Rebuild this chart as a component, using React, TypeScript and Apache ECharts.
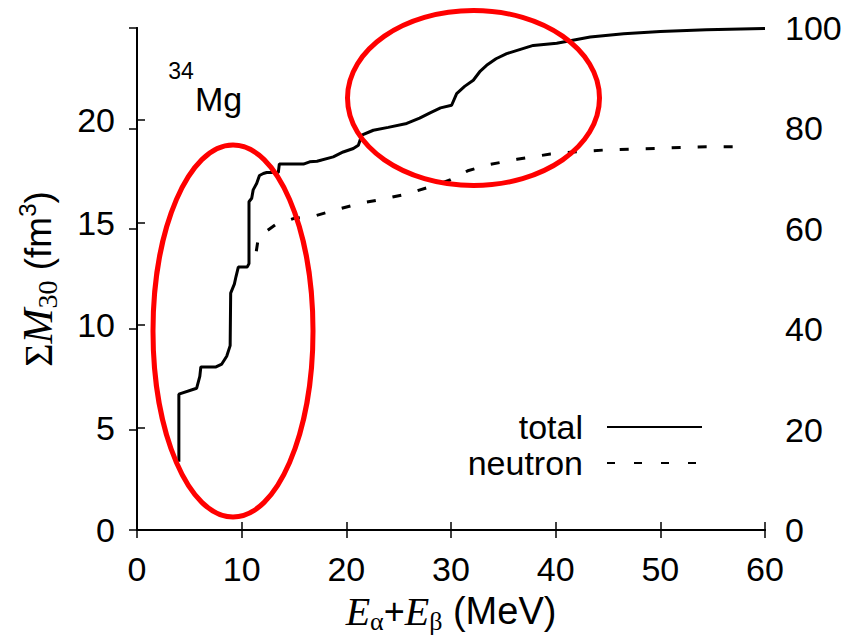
import React, { useEffect, useRef } from "react";
import * as echarts from "echarts";

const xTicks = [0, 10, 20, 30, 40, 50, 60];
const leftTicks = [0, 5, 10, 15, 20];
const rightTicks = [0, 20, 40, 60, 80, 100];

const totalE = [4.0, 4.0, 5.7, 6.0, 6.1, 7.55, 8.1, 8.57, 8.9, 8.95, 9.3, 9.46, 9.68, 10.54, 10.7, 10.7, 10.96, 11.1, 11.44, 11.7, 12.07, 12.39, 13.5, 13.6, 15.9, 16.5, 17.2, 18.75, 19.7, 20.67, 21.15, 21.47, 22.58, 24.0, 25.77, 27.0, 28.0, 29.0, 30.06, 30.54, 31.3, 32.13, 32.8, 33.4, 34.3, 35.32, 36.4, 37.86, 40.1, 43.3, 46.5, 50.0, 54.4, 60.0];
const totalM = [3.33, 6.63, 6.92, 7.5, 7.96, 7.96, 8.1, 8.48, 9.0, 11.56, 12.0, 12.37, 12.83, 12.84, 13.0, 16.02, 16.19, 16.6, 16.92, 17.3, 17.4, 17.45, 17.45, 17.86, 17.86, 17.97, 18.0, 18.21, 18.45, 18.62, 18.78, 19.27, 19.51, 19.65, 19.84, 20.1, 20.36, 20.6, 20.73, 21.3, 21.65, 21.95, 22.4, 22.68, 23.0, 23.25, 23.42, 23.65, 23.76, 24.06, 24.22, 24.33, 24.41, 24.48];

const neutronE = [11.4, 11.6, 13.2, 15.0, 17.0, 19.2, 21.3, 23.5, 25.8, 27.8, 29.9, 31.6, 33.7, 36.3, 39.5, 42.0, 44.5, 47.1, 49.6, 51.9, 54.4, 58.4];
const neutronM = [13.6, 14.3, 14.89, 15.21, 15.33, 15.65, 15.94, 16.15, 16.4, 16.72, 17.08, 17.53, 17.84, 18.09, 18.35, 18.46, 18.54, 18.59, 18.62, 18.67, 18.7, 18.7];

const SANS = "Liberation Sans, Arial, Helvetica, sans-serif";
const SERIF = "Liberation Serif, Times New Roman, serif";

export default function App() {
  const ref = useRef<HTMLDivElement>(null);
  useEffect(() => {
    if (!ref.current) return;
    const chart = echarts.init(ref.current, null, { renderer: "svg" });
    const axisLine = { show: true, lineStyle: { color: "#000", width: 2 } };
    const tick = { show: true, inside: true, length: 8, lineStyle: { color: "#000", width: 1.5 } };
    const label = { color: "#000", fontSize: 34, fontFamily: SANS };
    const option: any = {
      animation: false,
      grid: { left: 137, right: 85, top: 28, bottom: 111 },
      legend: {
        right: 147,
        top: 409,
        orient: "vertical",
        align: "right",
        itemWidth: 95,
        itemHeight: 10,
        itemGap: 0,
        padding: 0,
        itemStyle: { opacity: 0 },
        lineStyle: { width: 2 },
        textStyle: { fontSize: 34, fontFamily: SANS, color: "#000", lineHeight: 36, padding: [0, 19, 0, 0] },
        data: [
          { name: "total" },
          { name: "neutron", lineStyle: { width: 2, type: [8, 19] } },
        ],
      },
      xAxis: [
        {
          type: "value",
          min: xTicks[0],
          max: xTicks[xTicks.length - 1],
          interval: 10,
          position: "bottom",
          axisLine,
          axisTick: tick,
          splitLine: { show: false },
          axisLabel: { ...label, margin: 22 },
          name: "{e|E}{sub|α}{p|+}{e|E}{sub|β}{n| (MeV)}",
          nameLocation: "middle",
          nameGap: 58,
          nameTextStyle: {
            rich: {
              e: { fontFamily: SERIF, fontStyle: "italic", fontSize: 40, lineHeight: 46, color: "#000" },
              sub: { fontFamily: SERIF, fontSize: 26, lineHeight: 22, verticalAlign: "bottom", color: "#000" },
              p: { fontFamily: SANS, fontSize: 36, lineHeight: 46, color: "#000" },
              n: { fontFamily: SANS, fontSize: 38, lineHeight: 46, color: "#000" },
            },
          },
        },
        {
          type: "value",
          min: xTicks[0],
          max: xTicks[xTicks.length - 1],
          interval: 10,
          position: "top",
          axisLine,
          axisTick: tick,
          splitLine: { show: false },
          axisLabel: { show: false },
        },
      ],
      yAxis: [
        {
          type: "value",
          min: leftTicks[0],
          max: 24.5,
          interval: 5,
          position: "left",
          axisLine,
          axisTick: tick,
          splitLine: { show: false },
          axisLabel: { ...label, margin: 22, showMaxLabel: false },
        },
        {
          type: "value",
          min: rightTicks[0],
          max: rightTicks[rightTicks.length - 1],
          interval: 20,
          position: "right",
          axisLine,
          axisTick: tick,
          splitLine: { show: false },
          axisLabel: { ...label, margin: 20 },
        },
      ],
      series: [
        {
          name: "total",
          type: "line",
          xAxisIndex: 0,
          yAxisIndex: 0,
          symbol: "none",
          showSymbol: false,
          lineStyle: { color: "#000", width: 3 },
          itemStyle: { color: "#000" },
          data: totalE.map((e, i) => [e, totalM[i]]),
        },
        {
          name: "neutron",
          type: "line",
          xAxisIndex: 0,
          yAxisIndex: 0,
          symbol: "none",
          showSymbol: false,
          lineStyle: { color: "#000", width: 3, type: [9, 17] },
          itemStyle: { color: "#000" },
          data: neutronE.map((e, i) => [e, neutronM[i]]),
        },
      ],
      graphic: [
        {
          type: "text",
          x: 38,
          y: 279,
          rotation: Math.PI / 2,
          style: {
            text: "{s|Σ}{m|M}{sub|30}{n| (fm}{sup|3}{n|)}",
            align: "center",
            verticalAlign: "middle",
            rich: {
              s: { fontFamily: SERIF, fontSize: 40, lineHeight: 46, fill: "#000" },
              m: { fontFamily: SERIF, fontStyle: "italic", fontSize: 42, lineHeight: 46, fill: "#000" },
              sub: { fontFamily: SERIF, fontSize: 28, lineHeight: 22, verticalAlign: "bottom", fill: "#000" },
              n: { fontFamily: SANS, fontSize: 37, lineHeight: 46, fill: "#000" },
              sup: { fontFamily: SANS, fontSize: 24, lineHeight: 24, verticalAlign: "top", fill: "#000" },
            },
          },
        },
        {
          type: "text",
          x: 181,
          y: 71,
          style: { text: "34", fontFamily: SANS, fontSize: 23, fill: "#000", align: "center", verticalAlign: "middle" },
        },
        {
          type: "text",
          x: 195,
          y: 99,
          style: { text: "Mg", fontFamily: SANS, fontSize: 34, fill: "#000", align: "left", verticalAlign: "middle" },
        },
        {
          type: "ellipse",
          shape: { cx: 233, cy: 331, rx: 80, ry: 186 },
          style: { fill: "none", stroke: "#ff0000", lineWidth: 5 },
          z: 100,
        },
        {
          type: "ellipse",
          shape: { cx: 473.5, cy: 98, rx: 126, ry: 87.5 },
          style: { fill: "none", stroke: "#ff0000", lineWidth: 5 },
          z: 100,
        },
      ],
    };
    chart.setOption(option);
    return () => chart.dispose();
  }, []);
  return (
    <div
      ref={ref}
      style={{ position: "absolute", left: 0, top: 0, width: 850, height: 641, background: "#fff" }}
    />
  );
}
